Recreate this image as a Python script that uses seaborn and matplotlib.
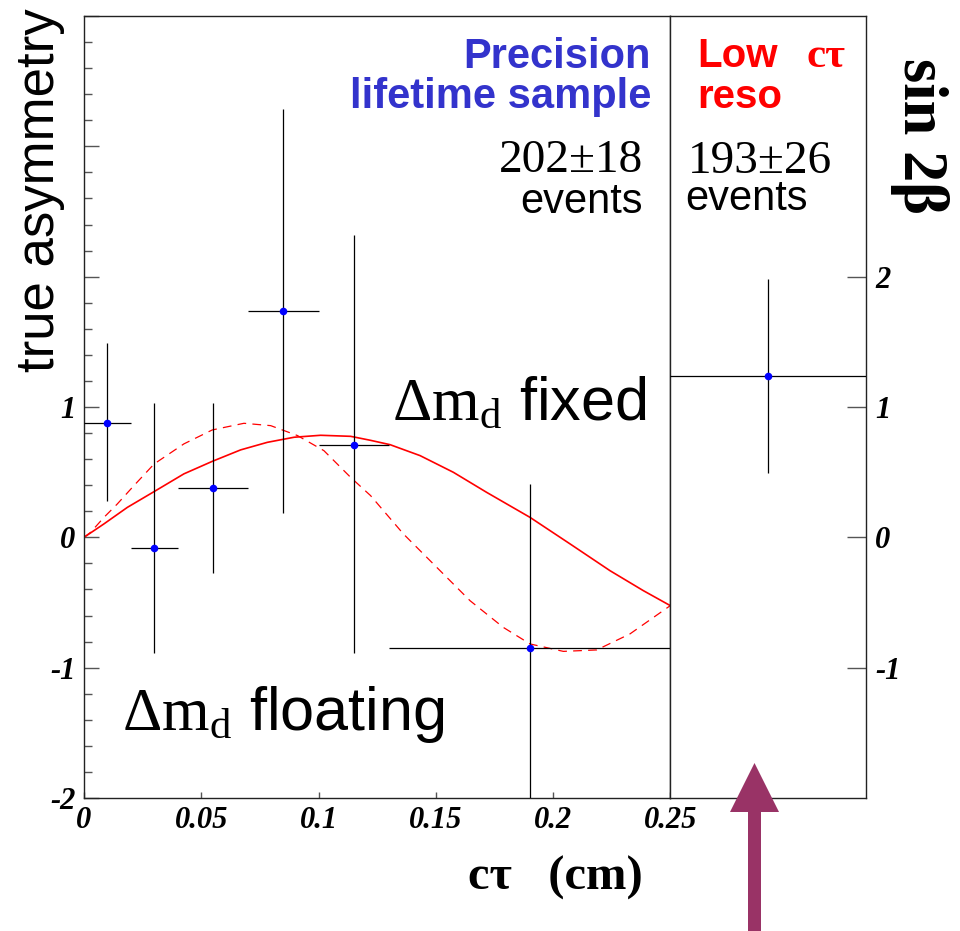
import numpy as np
import pandas as pd
import matplotlib
matplotlib.use("Agg")
import matplotlib.pyplot as plt
import seaborn as sns
from matplotlib.patches import Polygon
from matplotlib.ticker import FixedLocator, MultipleLocator, FuncFormatter

# ---------------- data ----------------
ct_center = [0.01, 0.03, 0.055, 0.085, 0.115, 0.19]
ct_halfwidth = [0.01, 0.01, 0.015, 0.015, 0.015, 0.06]
asym = [0.88, -0.08, 0.38, 1.74, 0.71, -0.85]
asym_err_low = [0.60, 0.81, 0.65, 1.55, 1.60, 1.27]
asym_err_high = [0.61, 1.11, 0.65, 1.55, 1.61, 1.26]

lowres_value = [1.24]
lowres_err_low = [0.75]
lowres_err_high = [0.74]

fixed_ct = [0, 0.0085, 0.0185, 0.0299, 0.0426, 0.0547, 0.0668, 0.0782, 0.0896,
            0.1009, 0.1137, 0.1220, 0.1305, 0.1433, 0.1575, 0.1717, 0.1902,
            0.2073, 0.2243, 0.2385, 0.25]
fixed_asym = [0, 0.103, 0.230, 0.351, 0.487, 0.583, 0.671, 0.729, 0.768,
              0.783, 0.775, 0.745, 0.711, 0.627, 0.499, 0.345, 0.153,
              -0.051, -0.256, -0.409, -0.524]

float_ct = [0, 0.0028, 0.0085, 0.0142, 0.0213, 0.0299, 0.0426, 0.0547, 0.0682,
            0.0796, 0.0910, 0.1023, 0.1137, 0.1222, 0.1362, 0.1504, 0.1646,
            0.1788, 0.1902, 0.2044, 0.2186, 0.2328, 0.25]
float_asym = [0, 0.038, 0.153, 0.256, 0.397, 0.563, 0.717, 0.824, 0.875,
              0.857, 0.781, 0.665, 0.460, 0.320, 0.026, -0.230, -0.486,
              -0.691, -0.818, -0.875, -0.864, -0.741, -0.524]

x_ticks = [0, 0.05, 0.1, 0.15, 0.2, 0.25]
x_ticklabels = ["0", "0.05", "0.1", "0.15", "0.2", "0.25"]
left_major = [-2, -1, 0, 1, 2, 3, 4]
left_labelled = [-2, -1, 0, 1]
right_ticks = [-1, 0, 1, 2]

# ---------------- style ----------------
sns.set_theme(style="white")
plt.rcParams["font.family"] = ["Liberation Sans", "DejaVu Sans"]
plt.rcParams["text.color"] = "black"
plt.rcParams["axes.unicode_minus"] = False
plt.rcParams["mathtext.fontset"] = "custom"
plt.rcParams["mathtext.rm"] = "Liberation Serif"
plt.rcParams["mathtext.it"] = "Liberation Serif:italic"
plt.rcParams["mathtext.bf"] = "Liberation Serif:bold"

W, H = 960, 931
fig = plt.figure(figsize=(W / 100, H / 100), dpi=100)
fig.patch.set_facecolor("white")

def fx(px):
    return px / W

def fy(py):
    return 1 - py / H

x0, x1, x2 = 84, 670.3, 865.7
ytop, ybot = 16, 798
ax1 = fig.add_axes([fx(x0), fy(ybot), fx(x1) - fx(x0), fy(ytop) - fy(ybot)])
ax2 = fig.add_axes([fx(x1), fy(ybot), fx(x2) - fx(x1), fy(ytop) - fy(ybot)])

for ax in (ax1, ax2):
    ax.set_facecolor("white")
    for s in ax.spines.values():
        s.set_color("#222222")
        s.set_linewidth(1.0)
    ax.set_ylim(-2, 4)

# ---------------- left panel ----------------
ax1.set_xlim(0, 0.25)
sns.lineplot(x=fixed_ct, y=fixed_asym, ax=ax1, color="red", lw=1.2, sort=False)
sns.lineplot(x=float_ct, y=float_asym, ax=ax1, color="red", lw=0.9,
             sort=False, linestyle=(0, (7, 5)))
ax1.errorbar(ct_center, asym, xerr=ct_halfwidth,
             yerr=[asym_err_low, asym_err_high], fmt="none",
             ecolor="black", elinewidth=0.9, capsize=0, zorder=3)
sns.scatterplot(x=ct_center, y=asym, ax=ax1, color="blue", s=30,
                edgecolor="blue", linewidth=0, zorder=4)

ax1.xaxis.set_major_locator(FixedLocator(x_ticks))
ax1.set_xticklabels(x_ticklabels)
ax1.yaxis.set_major_locator(FixedLocator(left_major))
ax1.yaxis.set_minor_locator(MultipleLocator(0.2))
ax1.yaxis.set_major_formatter(FuncFormatter(
    lambda v, p: f"{int(round(v))}" if int(round(v)) in left_labelled else ""))
ax1.tick_params(axis="y", which="major", direction="in", length=11, width=1,
                color="#555555", left=True, right=False, pad=6,
                labelcolor="black")
ax1.tick_params(axis="y", which="minor", direction="in", length=5.5, width=1,
                color="#555555", left=True, right=False)
ax1.tick_params(axis="x", which="major", direction="in", length=4.5, width=1,
                color="#555555", bottom=True, top=False, pad=6,
                labelcolor="black")
for lab in ax1.get_xticklabels() + ax1.get_yticklabels():
    lab.set_fontfamily("Liberation Serif")
    lab.set_fontweight("bold")
    lab.set_fontstyle("italic")
    lab.set_fontsize(22)

# ---------------- right panel ----------------
ax2.set_xlim(0, 1)
ax2.errorbar([0.5], lowres_value, xerr=[0.5],
             yerr=[lowres_err_low, lowres_err_high], fmt="none",
             ecolor="black", elinewidth=0.9, capsize=0, zorder=3)
sns.scatterplot(x=[0.5], y=lowres_value, ax=ax2, color="blue", s=30,
                linewidth=0, zorder=4)
ax2.set_xticks([])
ax2.yaxis.tick_right()
ax2.yaxis.set_major_locator(FixedLocator(right_ticks))
ax2.yaxis.set_major_formatter(FuncFormatter(lambda v, p: f"{int(round(v))}"))
ax2.tick_params(axis="y", which="major", direction="in", length=13.5, width=1,
                color="#555555", right=True, left=False, pad=7,
                labelcolor="black")
for lab in ax2.get_yticklabels():
    lab.set_fontfamily("Liberation Serif")
    lab.set_fontweight("bold")
    lab.set_fontstyle("italic")
    lab.set_fontsize(22)

for ax in (ax1, ax2):
    ax.set_xlabel("")
    ax.set_ylabel("")

# ---------------- texts ----------------
blue = "#3333cc"
fig.text(fx(651), fy(68), "Precision", color=blue, fontsize=30,
         fontweight="bold", ha="right", va="baseline")
fig.text(fx(651), fy(108), "lifetime sample", color=blue, fontsize=30,
         fontweight="bold", ha="right", va="baseline")
fig.text(fx(643), fy(172), "202±18", family="Liberation Serif", fontsize=34,
         ha="right", va="baseline", color="black")
fig.text(fx(643), fy(213), "events", fontsize=30, ha="right", va="baseline",
         color="black")

fig.text(fx(697), fy(67), "Low", color="red", fontsize=29, fontweight="bold",
         ha="left", va="baseline")
fig.text(fx(806), fy(67), "cτ", color="red", family="Liberation Serif",
         fontsize=31, fontweight="bold", ha="left", va="baseline")
fig.text(fx(697), fy(108), "reso", color="red", fontsize=29,
         fontweight="bold", ha="left", va="baseline")
fig.text(fx(688), fy(173), "193±26", family="Liberation Serif", fontsize=34,
         ha="left", va="baseline", color="black")
fig.text(fx(685), fy(210), "events", fontsize=30, ha="left", va="baseline",
         color="black")

fig.text(fx(920), fy(136), "sin 2β", family="Liberation Serif", fontsize=45,
         fontweight="bold", rotation=-90, ha="center", va="center",
         color="black")
fig.text(fx(40), fy(190), "true asymmetry", fontsize=38, rotation=90,
         ha="center", va="center", color="black")

fig.text(fx(392), fy(420), r"$\Delta\mathrm{m}_\mathrm{d}$ fixed",
         fontsize=44, ha="left", va="baseline", color="black")
fig.text(fx(122), fy(730), r"$\Delta\mathrm{m}_\mathrm{d}$ floating",
         fontsize=44, ha="left", va="baseline", color="black")

fig.text(fx(555), fy(890), "cτ   (cm)", family="Liberation Serif",
         fontsize=35, fontweight="bold", ha="center", va="baseline",
         color="black")

# ---------------- arrow ----------------
ax_c = 754.5
arrow_px = [(ax_c, 763), (ax_c + 24.5, 812), (ax_c + 6.5, 812), (ax_c + 6.5, 931),
            (ax_c - 6.5, 931), (ax_c - 6.5, 812), (ax_c - 24.5, 812)]
fig.add_artist(Polygon([(fx(a), fy(b)) for a, b in arrow_px], closed=True,
                       transform=fig.transFigure, facecolor="#993366",
                       edgecolor="none", clip_on=False))

fig.savefig("out.png", dpi=100, facecolor="white")
